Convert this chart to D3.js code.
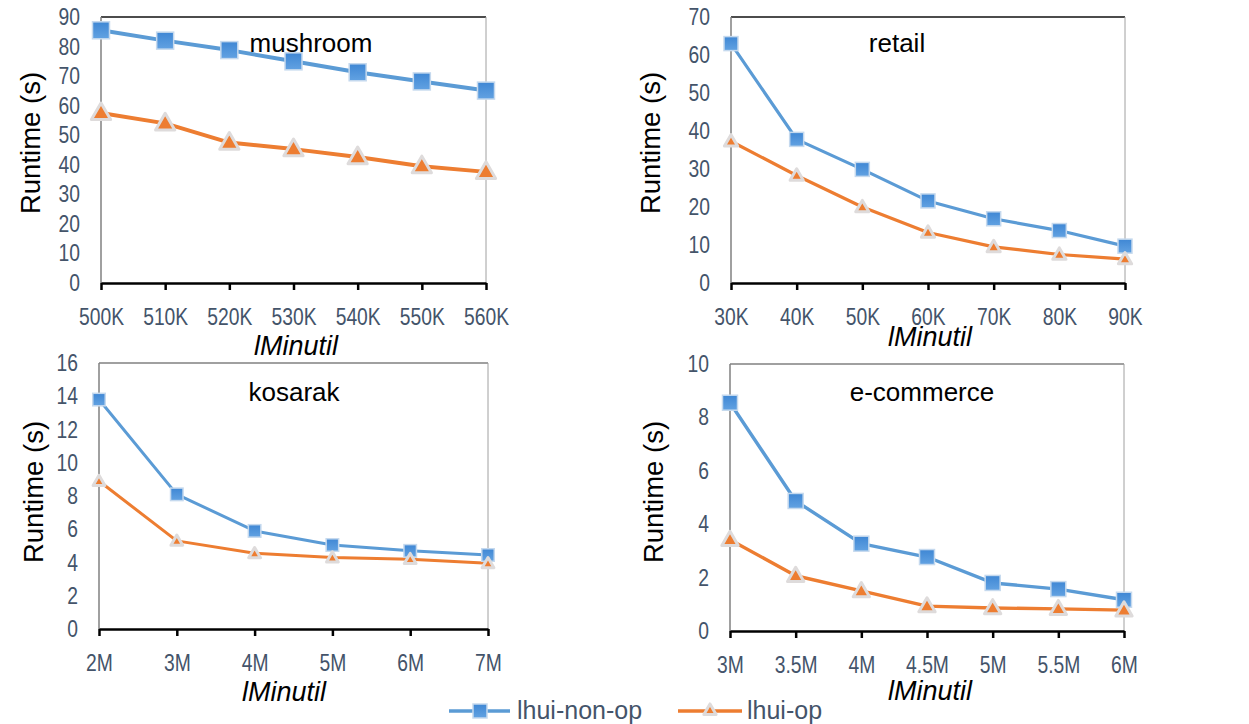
<!DOCTYPE html>
<html>
<head>
<meta charset="utf-8">
<script src="https://cdn.jsdelivr.net/npm/d3@7"></script>
<style>
  body { margin: 0; background: #fff; }
  svg { display: block; }
</style>
</head>
<body>
<svg id="chart"></svg>
<script>
// Size of the page
var width = 1249;
var height = 724;

// Data
var mushroomX = ["500K", "510K", "520K", "530K", "540K", "550K", "560K"];
var mushroomNonOp = [85.5, 82, 78.8, 75, 71.3, 68.2, 65.1];
var mushroomOp = [57.5, 54, 47.5, 45.3, 42.6, 39.5, 37.6];

var retailX = ["30K", "40K", "50K", "60K", "70K", "80K", "90K"];
var retailNonOp = [63, 37.8, 29.9, 21.6, 16.9, 13.8, 9.7];
var retailOp = [37.3, 28.3, 20, 13.3, 9.5, 7.5, 6.3];

var kosarakX = ["2M", "3M", "4M", "5M", "6M", "7M"];
var kosarakNonOp = [13.8, 8.1, 5.9, 5.05, 4.7, 4.45];
var kosarakOp = [8.9, 5.3, 4.55, 4.3, 4.2, 3.95];

var ecomX = ["3M", "3.5M", "4M", "4.5M", "5M", "5.5M", "6M"];
var ecomNonOp = [8.55, 4.87, 3.27, 2.77, 1.8, 1.57, 1.17];
var ecomOp = [3.42, 2.07, 1.5, 0.93, 0.86, 0.83, 0.78];

var seriesNames = ["lhui-non-op", "lhui-op"];
var blue = "#5B9BD5";
var orange = "#ED7D31";
var tickColor = "#44546A";
var font = "'Liberation Sans', Arial, sans-serif";

// panel layout (sq = square side, tri = triangle area, lw = line width)
var panels = [
    { title: "mushroom", cats: mushroomX, a: mushroomNonOp, b: mushroomOp, max: 90, step: 10,
      left: 101, right: 486, top: 17, bottom: 283, titleX: 311, titleY: 52,
      xlabX: 296, xlabY: 355, ylabX: 40, ylabY: 143, topColor: "#111",
      sq: 17, tri: 160, lw: 4 },
    { title: "retail", cats: retailX, a: retailNonOp, b: retailOp, max: 70, step: 10,
      left: 731, right: 1125, top: 17, bottom: 283, titleX: 897, titleY: 52,
      xlabX: 930, xlabY: 346, ylabX: 660, ylabY: 143, topColor: "#111",
      sq: 14, tri: 75, lw: 3.2 },
    { title: "kosarak", cats: kosarakX, a: kosarakNonOp, b: kosarakOp, max: 16, step: 2,
      left: 99, right: 488, top: 363, bottom: 629, titleX: 294, titleY: 401,
      xlabX: 284, xlabY: 701, ylabX: 43, ylabY: 492, topColor: "#808080",
      sq: 12.5, tri: 60, lw: 3 },
    { title: "e-commerce", cats: ecomX, a: ecomNonOp, b: ecomOp, max: 10, step: 2,
      left: 730, right: 1124, top: 364, bottom: 631, titleX: 922, titleY: 401,
      xlabX: 930, xlabY: 700, ylabX: 663, ylabY: 492, topColor: "#808080",
      sq: 15, tri: 115, lw: 3.4 }
];

var svg = d3.select("#chart")
    .attr("width", width)
    .attr("height", height);

// gradient for the square markers
var defs = svg.append("defs");
var grad = defs.append("linearGradient")
    .attr("id", "sqGrad")
    .attr("x1", 0).attr("y1", 0).attr("x2", 0).attr("y2", 1);
grad.append("stop").attr("offset", "0%").attr("stop-color", "#3F87D4");
grad.append("stop").attr("offset", "100%").attr("stop-color", "#62A2E2");

function drawSquare(sel, x, y, s) {
    sel.append("rect")
        .attr("x", x - s / 2)
        .attr("y", y - s / 2)
        .attr("width", s)
        .attr("height", s)
        .attr("fill", "url(#sqGrad)")
        .attr("stroke", "#C5D9EE")
        .attr("stroke-width", 1.5);
}

function drawTriangle(sel, x, y, area) {
    sel.append("path")
        .attr("d", d3.symbol().type(d3.symbolTriangle).size(area)())
        .attr("transform", "translate(" + x + "," + (y + 1) + ")")
        .attr("fill", orange)
        .attr("stroke", "#DEDBDB")
        .attr("stroke-width", 3)
        .attr("stroke-linejoin", "round");
}

// squeeze tick labels so they look like a narrow face
function narrow(sel) {
    sel.attr("fill", tickColor)
        .style("font-family", font)
        .style("font-size", "23.5px")
        .each(function() {
            var w = this.getComputedTextLength();
            d3.select(this)
                .attr("textLength", w * 0.82)
                .attr("lengthAdjust", "spacingAndGlyphs");
        });
}

panels.forEach(function(p) {
    var g = svg.append("g");

    var xScale = d3.scalePoint()
        .domain(p.cats)
        .range([p.left, p.right]);

    var yScale = d3.scaleLinear()
        .domain([0, p.max])
        .range([p.bottom, p.top]);

    // plot area border: top, right, left
    g.append("line")
        .attr("x1", p.left).attr("x2", p.right)
        .attr("y1", p.top).attr("y2", p.top)
        .attr("stroke", p.topColor).attr("stroke-width", 1.3);
    g.append("line")
        .attr("x1", p.right).attr("x2", p.right)
        .attr("y1", p.top).attr("y2", p.bottom)
        .attr("stroke", "#A0A0A0").attr("stroke-width", 1);
    g.append("line")
        .attr("x1", p.left).attr("x2", p.left)
        .attr("y1", p.top).attr("y2", p.bottom)
        .attr("stroke", "#808080").attr("stroke-width", 1.5);

    // y axis
    var yAxis = d3.axisLeft(yScale)
        .tickValues(d3.range(0, p.max + p.step / 2, p.step))
        .tickSize(0)
        .tickPadding(21);

    var ya = g.append("g")
        .attr("transform", "translate(" + p.left + ",0)")
        .call(yAxis);
    ya.select(".domain").remove();
    ya.selectAll("text").call(narrow);

    // x axis
    var xAxis = d3.axisBottom(xScale)
        .tickSizeInner(7)
        .tickSizeOuter(0)
        .tickPadding(18);

    var xa = g.append("g")
        .attr("transform", "translate(0," + p.bottom + ")")
        .call(xAxis);
    xa.select(".domain")
        .attr("stroke", "#000")
        .attr("stroke-width", 2.5);
    xa.selectAll(".tick line")
        .attr("stroke", "#000")
        .attr("stroke-width", 2.5);
    xa.selectAll("text").call(narrow);

    // lines
    var line = d3.line()
        .x(function(d, i) { return xScale(p.cats[i]); })
        .y(function(d) { return yScale(d); });

    g.append("path")
        .attr("fill", "none")
        .attr("stroke", blue)
        .attr("stroke-width", p.lw)
        .attr("stroke-linejoin", "round")
        .attr("d", line(p.a));

    g.append("path")
        .attr("fill", "none")
        .attr("stroke", orange)
        .attr("stroke-width", p.lw)
        .attr("stroke-linejoin", "round")
        .attr("d", line(p.b));

    p.a.forEach(function(v, i) { drawSquare(g, xScale(p.cats[i]), yScale(v), p.sq); });
    p.b.forEach(function(v, i) { drawTriangle(g, xScale(p.cats[i]), yScale(v), p.tri); });

    // panel title
    g.append("text")
        .attr("x", p.titleX)
        .attr("y", p.titleY)
        .attr("text-anchor", "middle")
        .style("font-family", font)
        .style("font-size", "26px")
        .attr("fill", "#000")
        .text(p.title);

    // x axis label
    g.append("text")
        .attr("x", p.xlabX)
        .attr("y", p.xlabY)
        .attr("text-anchor", "middle")
        .style("font-family", font)
        .style("font-size", "27px")
        .style("font-style", "italic")
        .attr("fill", "#000")
        .text("lMinutil");

    // y axis label
    g.append("text")
        .attr("transform", "translate(" + p.ylabX + "," + p.ylabY + ") rotate(-90)")
        .attr("text-anchor", "middle")
        .style("font-family", font)
        .style("font-size", "27.5px")
        .attr("fill", "#000")
        .text("Runtime (s)");
});

// legend
var legend = svg.append("g");
var legY = 711;

legend.append("line")
    .attr("x1", 449).attr("x2", 510)
    .attr("y1", legY).attr("y2", legY)
    .attr("stroke", blue).attr("stroke-width", 3.4);
drawSquare(legend, 480, legY, 14);
legend.append("text")
    .attr("x", 517).attr("y", legY + 8)
    .style("font-family", font)
    .style("font-size", "25px")
    .attr("fill", tickColor)
    .text(seriesNames[0]);

legend.append("line")
    .attr("x1", 678).attr("x2", 742)
    .attr("y1", legY).attr("y2", legY)
    .attr("stroke", orange).attr("stroke-width", 3.4);
drawTriangle(legend, 710, legY - 1, 65);
legend.append("text")
    .attr("x", 747).attr("y", legY + 8)
    .style("font-family", font)
    .style("font-size", "25px")
    .attr("fill", tickColor)
    .text(seriesNames[1]);
</script>
</body>
</html>
